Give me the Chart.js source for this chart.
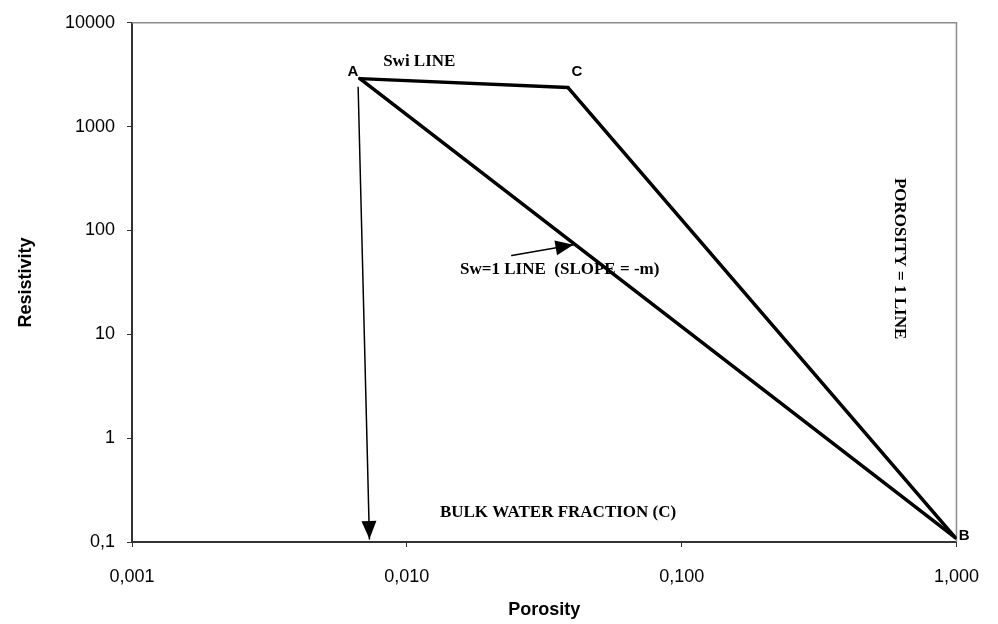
<!DOCTYPE html>
<html>
<head>
<meta charset="utf-8">
<script src="https://cdn.jsdelivr.net/npm/chart.js@4"></script>
<style>
  body { margin: 0; background: #fff; }
  #wrap { width: 998px; height: 624px; }
</style>
</head>
<body>
<div id="wrap"><canvas id="pickettChart"></canvas></div>
<script>
// Corner points A, C, B of the Pickett plot triangle
const pointNames = ['A', 'C', 'B'];
const porosity = [0.00675, 0.0386, 0.99];
const resistivity = [2900, 2380, 0.11];

// Arrow to the bulk water fraction and arrow to the Sw=1 line
const bulkArrowX = [0.00665, 0.00731];
const bulkArrowY = [2400, 0.107];
const slopeArrowX = [0.0241, 0.0404];
const slopeArrowY = [57.3, 72.9];

// Axis ticks (decades) and their printed labels
const xTicks = [0.001, 0.01, 0.1, 1];
const xTickLabels = ['0,001', '0,010', '0,100', '1,000'];
const yTicks = [0.1, 1, 10, 100, 1000, 10000];
const yTickLabels = ['0,1', '1', '10', '100', '1000', '10000'];

// Free text placed in data coordinates
const notes = [
  { text: 'Swi LINE', x: 0.0111, y: 4250 },
  { text: 'Sw=1 LINE  (SLOPE = -m)', x: 0.036, y: 42 },
  { text: 'BULK WATER FRACTION (C)', x: 0.0355, y: 0.193 },
  { text: 'POROSITY = 1 LINE', x: 0.618, y: 53.6, rotate: true }
];

const pt = i => ({ x: porosity[i], y: resistivity[i] });
const zip = (xs, ys) => xs.map((x, i) => ({ x: x, y: ys[i] }));

const serif = '"Liberation Serif", "Times New Roman", serif';
const sans = '"Liberation Sans", Arial, sans-serif';

// top + right frame in light grey
const framePlugin = {
  id: 'frame',
  beforeDatasetsDraw(chart) {
    const { ctx, chartArea: a } = chart;
    ctx.save();
    ctx.strokeStyle = '#8c8c8c';
    ctx.lineWidth = 1.5;
    ctx.beginPath();
    ctx.moveTo(a.left, a.top);
    ctx.lineTo(a.right, a.top);
    ctx.lineTo(a.right, a.bottom);
    ctx.stroke();
    ctx.restore();
  }
};

// filled arrow heads + point letters + notes
const annotatePlugin = {
  id: 'annotate',
  afterDatasetsDraw(chart) {
    const { ctx } = chart;
    const xs = chart.scales.x, ys = chart.scales.y;
    ctx.save();

    chart.data.datasets.forEach((ds, i) => {
      if (!ds.arrow) return;
      const pts = chart.getDatasetMeta(i).data;
      const tip = pts[pts.length - 1], prev = pts[pts.length - 2];
      const ang = Math.atan2(tip.y - prev.y, tip.x - prev.x);
      const len = 18, half = 7.5;
      ctx.save();
      ctx.translate(tip.x, tip.y);
      ctx.rotate(ang);
      ctx.fillStyle = '#000';
      ctx.beginPath();
      ctx.moveTo(0, 0);
      ctx.lineTo(-len, -half);
      ctx.lineTo(-len, half);
      ctx.closePath();
      ctx.fill();
      ctx.restore();
    });

    // letters at the corners
    const offsets = [[-7, -7], [9, -16], [9, -2]];
    ctx.fillStyle = '#000';
    ctx.font = 'bold 15px ' + sans;
    ctx.textAlign = 'center';
    ctx.textBaseline = 'middle';
    pointNames.forEach((n, i) => {
      const px = xs.getPixelForValue(porosity[i]) + offsets[i][0];
      const py = ys.getPixelForValue(resistivity[i]) + offsets[i][1];
      ctx.fillText(n, px, py);
    });

    ctx.font = 'bold 17px ' + serif;
    notes.forEach(n => {
      const px = xs.getPixelForValue(n.x);
      const py = ys.getPixelForValue(n.y);
      ctx.save();
      ctx.translate(px, py);
      if (n.rotate) ctx.rotate(Math.PI / 2);
      ctx.fillText(n.text, 0, 0);
      ctx.restore();
    });
    ctx.restore();
  }
};

const ctx = document.getElementById('pickettChart');

new Chart(ctx, {
  type: 'line',
  data: {
    datasets: [
      { label: 'Swi line', data: [pt(0), pt(1)], borderWidth: 3.5 },
      { label: 'Porosity = 1 line', data: [pt(1), pt(2)], borderWidth: 3.5 },
      { label: 'Sw = 1 line', data: [pt(0), pt(2)], borderWidth: 3.5 },
      { label: 'Bulk water arrow', data: zip(bulkArrowX, bulkArrowY), borderWidth: 1.5, arrow: true },
      { label: 'Slope arrow', data: zip(slopeArrowX, slopeArrowY), borderWidth: 1.5, arrow: true }
    ]
  },
  options: {
    responsive: true,
    maintainAspectRatio: false,
    animation: false,
    borderColor: '#000',
    elements: {
      line: { borderColor: '#000', tension: 0, borderCapStyle: 'round', borderJoinStyle: 'round' },
      point: { radius: 0, hoverRadius: 0 }
    },
    layout: { padding: { top: 18, right: 35, left: 0, bottom: 0 } },
    plugins: {
      legend: { display: false },
      tooltip: { enabled: false }
    },
    scales: {
      x: {
        type: 'logarithmic',
        min: 0.001,
        max: 1,
        afterFit: s => { s.height = 82; },
        afterBuildTicks: s => { s.ticks = xTicks.map(v => ({ value: v })); },
        border: { color: '#333', width: 2 },
        grid: { drawOnChartArea: false, drawTicks: true, tickLength: 5, color: '#333' },
        ticks: {
          autoSkip: false,
          maxRotation: 0,
          padding: 19,
          color: '#000',
          font: { family: sans, size: 18 },
          callback: v => xTickLabels[xTicks.indexOf(v)]
        },
        title: {
          display: true,
          text: 'Porosity',
          color: '#000',
          font: { family: sans, size: 18, weight: 'bold' },
          padding: { top: 0, bottom: 3 }
        }
      },
      y: {
        type: 'logarithmic',
        min: 0.1,
        max: 10000,
        afterFit: s => { s.width = 132; },
        afterBuildTicks: s => { s.ticks = yTicks.map(v => ({ value: v })); },
        border: { color: '#333', width: 2 },
        grid: { drawOnChartArea: false, drawTicks: true, tickLength: 5, color: '#333' },
        ticks: {
          autoSkip: false,
          padding: 12,
          color: '#000',
          font: { family: sans, size: 18 },
          callback: v => yTickLabels[yTicks.indexOf(v)]
        },
        title: {
          display: true,
          text: 'Resistivity',
          color: '#000',
          font: { family: sans, size: 18, weight: 'bold' },
          padding: { top: 15, bottom: 0 }
        }
      }
    }
  },
  plugins: [framePlugin, annotatePlugin]
});
</script>
</body>
</html>
